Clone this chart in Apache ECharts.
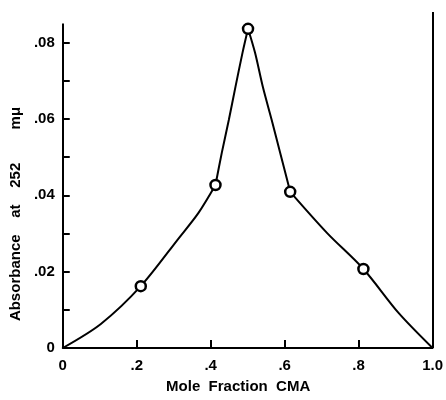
<!DOCTYPE html>
<html><head><meta charset="utf-8">
<script src="https://cdn.jsdelivr.net/npm/echarts@6/dist/echarts.min.js"></script>
<style>html,body{margin:0;padding:0;background:#fff}#c{width:446px;height:400px}</style>
</head><body><div id="c"></div>
<script>
// Curve, in four pieces (bends at the .41 point, the peak and the .61 point)
const curve1X = [0, 0.103, 0.211, 0.314, 0.367, 0.413];
const curve1Y = [0, 0.0063, 0.0162, 0.0288, 0.0354, 0.0427];
const curve2X = [0.413, 0.430, 0.449, 0.467, 0.486, 0.501];
const curve2Y = [0.0427, 0.0511, 0.0597, 0.0684, 0.0773, 0.0836];
const curve3X = [0.501, 0.520, 0.541, 0.565, 0.588, 0.615];
const curve3Y = [0.0836, 0.0773, 0.0684, 0.0597, 0.0511, 0.0409];
const curve4X = [0.615, 0.715, 0.813, 0.908, 1.0];
const curve4Y = [0.0409, 0.0301, 0.0207, 0.0092, 0];
// Measured points (circles)
const pointX = [0.211, 0.413, 0.501, 0.615, 0.813];
const pointY = [0.0162, 0.0427, 0.0836, 0.0409, 0.0207];
// Ticks and labels
const xTickValues = [0, 0.2, 0.4, 0.6, 0.8, 1.0];
const xTickLabels = ['0', '.2', '.4', '.6', '.8', '1.0'];
const xInnerTicks = [0.2, 0.4, 0.6, 0.8];
const yTickValues = [0, 0.01, 0.02, 0.03, 0.04, 0.05, 0.06, 0.07, 0.08];
const yLabelValues = [0, 0.02, 0.04, 0.06, 0.08];
const yTickLabels = ['0', '.02', '.04', '.06', '.08'];
const leftAxisTop = 0.085;
const yRangeMax = 0.088;

function lookup(vals, labels, v) {
  for (let i = 0; i < vals.length; i++) if (Math.abs(vals[i] - v) < 1e-6) return labels[i];
  return '';
}
function pairs(xs, ys) { return xs.map((x, i) => [x, ys[i]]); }

const chart = echarts.init(document.getElementById('c'), null, {renderer: 'canvas'});
const black = '#000';
const labelFont = {color: black, fontFamily: 'Liberation Sans', fontWeight: 'bold', fontSize: 15};
function curve(xs, ys, extra) {
  return Object.assign({
    type: 'line', clip: false, smooth: 0.3,
    showSymbol: false, symbol: 'none',
    lineStyle: {color: black, width: 2}, z: 2,
    data: pairs(xs, ys)
  }, extra || {});
}
chart.setOption({
  animation: false,
  backgroundColor: '#fff',
  grid: {left: 59, right: 8, top: 12, bottom: 52, containLabel: false},
  xAxis: {
    type: 'value', min: 0, max: 1.0,
    name: 'Mole  Fraction  CMA', nameLocation: 'middle', nameGap: 31,
    nameTextStyle: {color: black, fontFamily: 'Liberation Sans', fontWeight: 'bold', fontSize: 15, padding: [0, 19, 0, 0]},
    axisLine: {show: true, lineStyle: {color: black, width: 2}},
    axisTick: {show: true, inside: true, length: 8, customValues: xInnerTicks, lineStyle: {color: black, width: 2}},
    axisLabel: {show: true, margin: 10, customValues: xTickValues, formatter: v => lookup(xTickValues, xTickLabels, v), ...labelFont},
    splitLine: {show: false}
  },
  yAxis: {
    type: 'value', min: 0, max: yRangeMax,
    name: 'Absorbance    at    252        mμ', nameLocation: 'middle', nameGap: 30,
    nameTextStyle: {color: black, fontFamily: 'Liberation Sans', fontWeight: 'bold', fontSize: 15, padding: [0, 68, 0, 0]},
    axisLine: {show: false},
    axisTick: {show: true, inside: true, length: 7, customValues: yTickValues, lineStyle: {color: black, width: 2}},
    axisLabel: {show: true, margin: 8, customValues: yLabelValues, formatter: v => lookup(yLabelValues, yTickLabels, v), ...labelFont},
    splitLine: {show: false}
  },
  series: [
    curve(curve1X, curve1Y, {
      markLine: {
        silent: true, symbol: ['none', 'none'], label: {show: false},
        lineStyle: {color: black, width: 2, type: 'solid'},
        data: [
          [{coord: [0, 0]}, {coord: [0, leftAxisTop]}],
          [{coord: [1.0, 0]}, {coord: [1.0, yRangeMax]}]
        ]
      }
    }),
    curve(curve2X, curve2Y),
    curve(curve3X, curve3Y),
    curve(curve4X, curve4Y),
    {
      type: 'scatter', clip: false,
      data: pairs(pointX, pointY),
      symbol: 'circle', symbolSize: 10,
      itemStyle: {color: '#fff', borderColor: black, borderWidth: 2.5, opacity: 1},
      z: 3
    }
  ]
});
</script></body></html>
